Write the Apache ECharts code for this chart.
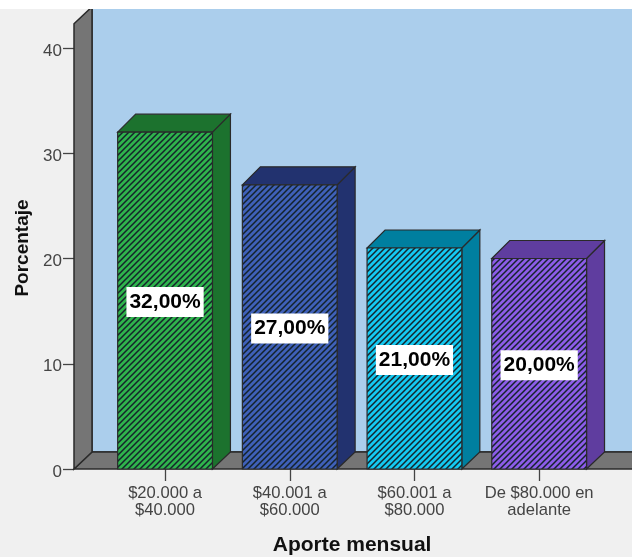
<!DOCTYPE html>
<html>
<head>
<meta charset="utf-8">
<title>Aporte mensual</title>
<script src="https://cdn.jsdelivr.net/npm/echarts@6/dist/echarts.min.js"></script>
<style>
html, body { margin: 0; padding: 0; background: #fff; }
#main { position: absolute; left: 0; top: 9px; width: 632px; height: 548px; }
</style>
</head>
<body>
<div id="main"></div>
<script>
var categories = ['$20.000 a\n$40.000', '$40.001 a\n$60.000', '$60.001 a\n$80.000', 'De $80.000 en\nadelante'];
var values = [32, 27, 21, 20];
var frontColors = ['#2FB34C', '#3F60B8', '#14C8F0', '#8C5CE8'];
var sideColors = ['#1C722E', '#22326F', '#007F9F', '#5F3D9F'];
var yTicks = [0, 10, 20, 30, 40];

var depthX = 18;
var depthY = 17;
var barDepthY = 18;
var wallTop = 42.3;
var edge = '#2a2a2a';

function hatch(color) {
    var c = document.createElement('canvas');
    c.width = 6;
    c.height = 6;
    var ctx = c.getContext('2d');
    ctx.fillStyle = color;
    ctx.fillRect(0, 0, 6, 6);
    ctx.strokeStyle = '#14232b';
    ctx.lineWidth = 1.5;
    ctx.beginPath();
    ctx.moveTo(-3, 3); ctx.lineTo(3, -3);
    ctx.moveTo(0, 6); ctx.lineTo(6, 0);
    ctx.moveTo(3, 9); ctx.lineTo(9, 3);
    ctx.stroke();
    return c;
}

function poly(points, fill, lw) {
    return {
        type: 'polygon',
        shape: { points: points },
        style: { fill: fill, stroke: edge, lineWidth: lw || 1.2 }
    };
}

// walls and floor
function renderWalls(params, api) {
    var origin = api.coord([0, 0]);
    var top = api.coord([0, wallTop]);
    var left = 74;
    var right = 640;
    var y0 = origin[1];
    var yt = top[1];
    return {
        type: 'group',
        children: [
            poly([[left + depthX, yt - depthY], [right, yt - depthY], [right, y0 - depthY], [left + depthX, y0 - depthY]], '#ABCEEC', 1.5),
            poly([[left, y0], [left + depthX, y0 - depthY], [right, y0 - depthY], [right, y0]], '#757575', 1.5),
            poly([[left, yt], [left + depthX, yt - depthY], [left + depthX, y0 - depthY], [left, y0]], '#757575', 1.5)
        ]
    };
}

function renderBar(params, api) {
    var i = api.value(0);
    var v = api.value(1);
    var base = api.coord([i, 0]);
    var head = api.coord([i, v]);
    var w = api.size([1, 0])[0] * 0.76;
    var x0 = base[0] - w / 2;
    var x1 = base[0] + w / 2;
    var y0 = base[1];
    var y1 = head[1];
    var mid = api.coord([i, v / 2]);
    var idx = params.dataIndex;
    return {
        type: 'group',
        children: [
            poly([[x1, y1], [x1 + depthX, y1 - barDepthY], [x1 + depthX, y0 - depthY], [x1, y0]], sideColors[idx]),
            poly([[x0, y1], [x0 + depthX, y1 - barDepthY], [x1 + depthX, y1 - barDepthY], [x1, y1]], sideColors[idx]),
            poly([[x0, y1], [x1, y1], [x1, y0], [x0, y0]], { image: hatch(frontColors[idx]), repeat: 'repeat' }),
            {
                type: 'text',
                z2: 5,
                style: {
                    x: mid[0],
                    y: mid[1] + 1.5,
                    text: v.toFixed(2).replace('.', ',') + '%',
                    align: 'center',
                    verticalAlign: 'middle',
                    font: 'bold 21px "Liberation Sans", Arial, sans-serif',
                    fill: '#000',
                    backgroundColor: '#fff',
                    padding: [5, 3, 4, 3]
                }
            }
        ]
    };
}

var chart = echarts.init(document.getElementById('main'));
chart.setOption({
    backgroundColor: '#F0F0F0',
    animation: false,
    grid: { left: 102.7, width: 498.8, top: 39, height: 421, outerBoundsMode: 'none' },
    xAxis: {
        type: 'category',
        data: categories,
        name: 'Aporte mensual',
        nameLocation: 'middle',
        nameGap: 66,
        nameTextStyle: { color: '#111', fontSize: 21, fontWeight: 'bold', fontFamily: 'Liberation Sans' },
        axisLine: { show: false },
        axisTick: { show: true, alignWithLabel: true, length: 12, lineStyle: { color: '#444', width: 1.3 } },
        axisLabel: { color: '#444', fontSize: 16.6, lineHeight: 17, margin: 16, fontFamily: 'Liberation Sans', interval: 0 },
        splitLine: { show: false }
    },
    yAxis: {
        type: 'value',
        min: 0,
        max: yTicks[yTicks.length - 1],
        interval: 10,
        offset: 28.7,
        name: 'Porcentaje',
        nameLocation: 'middle',
        nameGap: 42,
        nameRotate: 90,
        nameTextStyle: { color: '#111', fontSize: 19, fontWeight: 'bold', fontFamily: 'Liberation Sans', padding: [0, 0, 0, 21] },
        axisLine: { show: false },
        axisTick: { show: true, length: 11, lineStyle: { color: '#444', width: 1.3 } },
        axisLabel: { color: '#444', fontSize: 17, margin: 12, verticalAlign: 'top', lineHeight: 6, fontFamily: 'Liberation Sans' },
        splitLine: { show: false }
    },
    series: [
        {
            type: 'custom',
            clip: false,
            silent: true,
            z: 1,
            renderItem: renderWalls,
            data: [[0, 0]]
        },
        {
            type: 'custom',
            clip: false,
            z: 2,
            renderItem: renderBar,
            encode: { x: 0, y: 1 },
            data: values.map(function (v, i) { return [i, v]; })
        }
    ]
});
</script>
</body>
</html>
